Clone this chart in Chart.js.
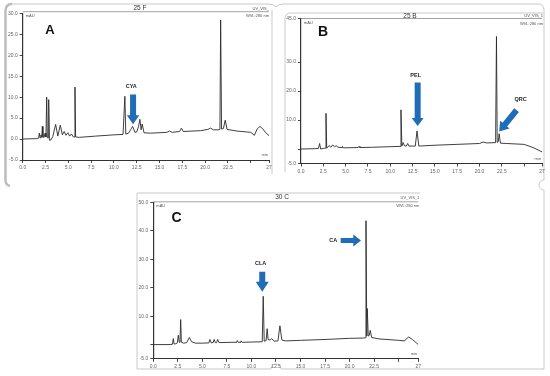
<!DOCTYPE html>
<html>
<head>
<meta charset="utf-8">
<script src="https://cdn.jsdelivr.net/npm/chart.js@4.4.1/dist/chart.umd.min.js"></script>
<style>
  body { margin: 0; background: #fff; }
  #wrap { position: relative; width: 550px; height: 376px; }
  canvas { position: absolute; left: 0; top: 0; }
</style>
</head>
<body>
<div id="wrap">
  <canvas id="chartA" width="550" height="376"></canvas>
  <canvas id="chartB" width="550" height="376"></canvas>
  <canvas id="chartC" width="550" height="376"></canvas>
</div>
<script>
// retention time (min) and absorbance (mAU)
const timesA = [0, 1.5, 1.75, 1.82, 1.9, 2.0, 2.1, 2.15, 2.22, 2.35, 2.45, 2.55, 2.63, 2.7, 2.78, 2.85, 2.93, 3.1, 3.3, 3.61, 3.85, 4.12, 4.35, 4.55, 4.75, 4.95, 5.15, 5.35, 5.55, 5.65, 5.73, 5.8, 6.2, 8.0, 10.0, 11.0, 11.2, 11.3, 11.6, 11.85, 12.05, 12.3, 12.5, 12.7, 12.85, 12.98, 13.1, 13.3, 14.0, 15.8, 16.1, 16.4, 17.2, 17.4, 17.6, 19.5, 20.3, 20.6, 20.9, 21.5, 21.62, 21.7, 21.8, 22.0, 22.2, 22.4, 23.5, 24.5, 25.0, 25.4, 25.7, 26.0, 26.3, 26.6, 27.0];
const signalA = [0, 0.1, 0.2, 1.4, 0.3, 1.0, 0.4, 3.0, 0.5, 0.4, 1.4, 0.5, 10.0, 0.3, 0.3, 9.4, -0.3, -0.2, 0.6, 3.5, 0.7, 3.3, 1.0, 1.8, 0.9, 1.5, 0.7, 1.2, 0.5, 0.5, 12.4, 0.5, 0.4, 0.7, 1.0, 1.1, 10.2, 1.2, 1.4, 2.3, 3.0, 1.6, 1.7, 3.0, 4.7, 2.2, 3.6, 1.5, 1.4, 1.6, 1.9, 1.6, 1.8, 2.6, 1.8, 2.0, 2.3, 2.6, 2.2, 2.2, 2.3, 28.4, 2.4, 2.5, 4.5, 2.3, 1.9, 1.7, 1.6, 0.9, 2.4, 3.0, 2.5, 1.6, 0.8];

const timesB = [0, 1.5, 1.95, 2.09, 2.2, 2.5, 2.72, 2.8, 2.88, 3.0, 3.15, 3.35, 3.55, 3.75, 3.95, 4.15, 4.6, 4.65, 4.75, 6.4, 6.5, 6.6, 8.0, 10.0, 11.1, 11.2, 11.3, 11.45, 11.6, 11.8, 11.95, 12.1, 12.8, 13.0, 13.2, 15.0, 17.5, 20.0, 20.4, 20.8, 21.8, 21.9, 21.98, 22.1, 22.2, 22.35, 23.0, 25.0, 26.0, 27.0];
const signalB = [0, 0.1, 0.2, 1.9, 0.0, 0.2, 0.3, 12.3, 0.3, 0.6, 1.2, 0.6, 1.4, 0.8, 1.1, 0.6, 0.5, 0.9, 0.4, 0.5, 0.9, 0.5, 0.6, 0.8, 0.9, 13.5, 1.0, 2.2, 1.1, 1.0, 1.9, 1.0, 1.0, 6.2, 1.0, 1.3, 1.6, 1.9, 2.4, 2.1, 2.2, 38.8, 2.3, 2.5, 5.3, 2.0, 1.9, 1.6, 0.5, -1.0];

const timesC = [0, 1.5, 1.95, 2.04, 2.12, 2.3, 2.45, 2.55, 2.65, 2.72, 2.79, 2.86, 3.1, 3.4, 3.67, 3.9, 4.3, 5.0, 5.65, 5.77, 5.9, 6.1, 6.2, 6.32, 6.45, 6.56, 6.7, 8.0, 8.5, 8.56, 8.65, 8.85, 8.93, 9.05, 10.0, 11.1, 11.2, 11.3, 11.5, 11.6, 11.7, 11.9, 12.06, 12.3, 12.7, 12.9, 13.1, 13.5, 15.0, 17.5, 20.0, 21.4, 21.6, 21.67, 21.75, 21.8, 21.9, 22.0, 22.1, 22.25, 23.0, 25.0, 25.6, 26.0, 26.4, 26.8, 27.0];
const signalC = [0, 0.0, 0.1, 2.1, 0.2, 0.3, 0.6, 3.3, 0.8, 1.0, 8.8, 0.8, 0.5, 0.7, 2.5, 1.0, 0.5, 0.5, 0.6, 1.8, 0.6, 0.7, 1.8, 0.7, 0.7, 1.8, 0.7, 0.8, 0.8, 1.4, 0.8, 0.8, 1.3, 0.8, 0.9, 1.0, 17.0, 1.2, 1.4, 5.6, 1.8, 1.6, 2.1, 1.2, 1.3, 6.6, 1.6, 1.3, 1.5, 1.8, 2.2, 2.3, 2.4, 43.6, 3.0, 12.7, 3.0, 3.2, 5.0, 2.5, 2.0, 1.5, 1.3, 2.7, 1.8, 0.6, 0.0];

const xTicks = [0, 2.5, 5, 7.5, 10, 12.5, 15, 17.5, 20, 22.5, 25, 27];
const xTickLabels = ['0.0', '2.5', '5.0', '7.5', '10.0', '12.5', '15.0', '17.5', '20.0', '22.5', '', '27'];
const yTicksA = [-5, 0, 5, 10, 15, 20, 25, 30];
const yTickLabelsA = ['-5.0', '0.0', '5.0', '10.0', '15.0', '20.0', '25.0', '30.0'];
const yTicksB = [-5, 0, 10, 20, 30, 45];
const yTickLabelsB = ['-5.0', '', '10.0', '20.0', '30.0', '45.0'];
const yTicksC = [-5, 0, 10, 20, 30, 40, 50];
const yTickLabelsC = ['-5.0', '', '10.0', '20.0', '30.0', '40.0', '50.0'];

const FONT = '"Liberation Sans", Arial, sans-serif';
const BLUE = '#1f6db7';

function drawArrow(ctx, x1, y1, x2, y2, shaftW, headW, headL) {
  const ang = Math.atan2(y2 - y1, x2 - x1);
  const len = Math.hypot(x2 - x1, y2 - y1);
  ctx.save();
  ctx.translate(x1, y1);
  ctx.rotate(ang);
  ctx.beginPath();
  ctx.moveTo(0, -shaftW / 2);
  ctx.lineTo(len - headL, -shaftW / 2);
  ctx.lineTo(len - headL, -headW / 2);
  ctx.lineTo(len, 0);
  ctx.lineTo(len - headL, headW / 2);
  ctx.lineTo(len - headL, shaftW / 2);
  ctx.lineTo(0, shaftW / 2);
  ctx.closePath();
  ctx.fill();
  ctx.restore();
}

// header text, panel letter, arrows and compound labels
const panelDecor = {
  id: 'panelDecor',
  afterDraw(chart, args, o) {
    const { ctx, chartArea: a, scales: { x, y } } = chart;
    ctx.save();
    ctx.strokeStyle = '#8c8c8c';
    ctx.lineWidth = 0.8;
    ctx.beginPath();
    ctx.moveTo(a.left, o.headY);
    ctx.lineTo(a.right, o.headY);
    ctx.stroke();

    ctx.fillStyle = '#333';
    ctx.textBaseline = 'middle';
    ctx.textAlign = 'center';
    ctx.font = '6.5px ' + FONT;
    ctx.fillText(o.title, o.titleX, o.titleY);

    ctx.font = '4px ' + FONT;
    ctx.fillStyle = '#555';
    ctx.textAlign = 'right';
    ctx.fillText(o.channel, a.right + o.infoDx, o.infoY[0]);
    ctx.fillText('WVL:280 nm', a.right + o.infoDx, o.infoY[1]);
    ctx.fillText('min', a.right - 1, a.bottom - 5);
    ctx.textAlign = 'left';
    ctx.fillText('mAU', a.left + 3, o.mauY);

    ctx.fillStyle = '#111';
    ctx.textAlign = 'center';
    ctx.font = 'bold ' + o.letterSize + 'px ' + FONT;
    ctx.fillText(o.letter, x.getPixelForValue(o.letterAt[0]), y.getPixelForValue(o.letterAt[1]));

    ctx.fillStyle = '#222';
    for (const l of o.labels) {
      ctx.font = 'bold 5.5px ' + FONT;
      ctx.fillText(l.text, x.getPixelForValue(l.at[0]), y.getPixelForValue(l.at[1]));
    }
    ctx.fillStyle = BLUE;
    for (const ar of o.arrows) {
      drawArrow(ctx,
        x.getPixelForValue(ar.from[0]), y.getPixelForValue(ar.from[1]),
        x.getPixelForValue(ar.to[0]), y.getPixelForValue(ar.to[1]),
        ar.shaft, ar.head, ar.headLen);
    }
    ctx.restore();
  }
};

// light grey outline of the composite figure
const figureFrame = {
  id: 'figureFrame',
  beforeDraw(chart) {
    const ctx = chart.ctx;
    ctx.save();
    ctx.strokeStyle = '#c9c9c9';
    ctx.lineWidth = 1;
    ctx.beginPath();
    ctx.moveTo(12, 4);
    ctx.lineTo(268, 4);
    ctx.quadraticCurveTo(274, 4, 276, 7);
    ctx.quadraticCurveTo(278, 4, 284, 4);
    ctx.lineTo(538, 4);
    ctx.quadraticCurveTo(544, 4, 544, 10);
    ctx.lineTo(544, 178);
    ctx.arc(544, 185, 5, -Math.PI / 2, Math.PI / 2, true);
    ctx.lineTo(544, 369);
    ctx.lineTo(281, 369);
    ctx.arc(276, 369, 5, 0, Math.PI, true);
    ctx.lineTo(137, 369);
    ctx.lineTo(137, 193);
    ctx.lineTo(420, 193);
    ctx.moveTo(272, 10);
    ctx.lineTo(272, 174);
    ctx.moveTo(285, 172);
    ctx.lineTo(285, 19);
    ctx.quadraticCurveTo(285, 13, 291, 13);
    ctx.lineTo(543, 13);
    ctx.stroke();

    ctx.strokeStyle = '#bdbdbd';
    ctx.lineWidth = 2.5;
    ctx.beginPath();
    ctx.moveTo(12, 4);
    ctx.quadraticCurveTo(5.5, 4, 5.5, 11);
    ctx.lineTo(5.5, 180);
    ctx.quadraticCurveTo(5.5, 185, 10, 186);
    ctx.stroke();
    ctx.restore();
  }
};

function makeChart(id, times, signal, yMin, yMax, yTicks, yTickLabels, padding, decor, extraPlugins) {
  return new Chart(document.getElementById(id), {
    type: 'line',
    data: {
      datasets: [{
        data: times.map((t, i) => ({ x: t, y: signal[i] })),
        borderColor: '#2a2a2a',
        borderWidth: 0.9,
        pointRadius: 0,
        tension: 0,
        fill: false
      }]
    },
    options: {
      responsive: false,
      animation: false,
      events: [],
      layout: { padding: padding },
      plugins: {
        legend: { display: false },
        tooltip: { enabled: false },
        panelDecor: decor
      },
      scales: {
        x: {
          type: 'linear', min: 0, max: 27,
          afterBuildTicks: s => { s.ticks = xTicks.map(v => ({ value: v })); },
          afterFit: s => { s.height = 16; },
          grid: { drawOnChartArea: false, tickLength: 3, color: '#444' },
          border: { color: '#333', width: 1 },
          ticks: {
            autoSkip: false, maxRotation: 0, padding: 2, color: '#666',
            font: { size: 5, family: FONT },
            callback: (v, i) => xTickLabels[i]
          }
        },
        y: {
          min: yMin, max: yMax,
          afterBuildTicks: s => { s.ticks = yTicks.map(v => ({ value: v })); },
          afterFit: s => { s.width = 16; },
          grid: { drawOnChartArea: false, tickLength: 3, color: '#444' },
          border: { color: '#333', width: 1.2 },
          ticks: {
            padding: 2, color: '#666',
            font: { size: 5, family: FONT },
            callback: (v, i) => yTickLabels[i]
          }
        }
      }
    },
    plugins: [panelDecor].concat(extraPlugins || [])
  });
}

makeChart('chartA', timesA, signalA, -5, 30, yTicksA, yTickLabelsA,
  { left: 6.7, top: 13.3, right: 281, bottom: 200 },
  {
    title: '25 F', titleX: 140, titleY: 8.5, headY: 11.7,
    channel: 'UV_VIS_', infoDx: 0, infoY: [8.5, 16], mauY: 16,
    letter: 'A', letterSize: 13, letterAt: [3.0, 25.8],
    labels: [{ text: 'CYA', at: [11.9, 12.5] }],
    arrows: [{ from: [12.1, 10.6], to: [12.1, 3.5], shaft: 6, head: 12.5, headLen: 9 }]
  }, [figureFrame]);

makeChart('chartB', timesB, signalB, -5, 45, yTicksB, yTickLabelsB,
  { left: 285, top: 18.5, right: 8, bottom: 196.5 },
  {
    title: '25 B', titleX: 410, titleY: 16, headY: 18.5,
    channel: 'UV_VIS_1', infoDx: 1, infoY: [16, 23.5], mauY: 23,
    letter: 'B', letterSize: 14, letterAt: [2.46, 40.3],
    labels: [{ text: 'PEL', at: [12.85, 25.2] }, { text: 'QRC', at: [24.6, 17.1] }],
    arrows: [
      { from: [13.07, 22.9], to: [13.07, 7.9], shaft: 6, head: 12, headLen: 8 },
      { from: [24.15, 13.4], to: [22.2, 6.0], shaft: 6, head: 12, headLen: 9 }
    ]
  });

makeChart('chartC', timesC, signalC, -5, 50, yTicksC, yTickLabelsC,
  { left: 137.3, top: 202.5, right: 131.7, bottom: 1.2 },
  {
    title: '30 C', titleX: 282, titleY: 197.3, headY: 201.8,
    channel: 'UV_VIS_1', infoDx: 1, infoY: [198, 206], mauY: 206,
    letter: 'C', letterSize: 14, letterAt: [2.38, 44.5],
    labels: [{ text: 'CLA', at: [10.94, 28.4] }, { text: 'CA', at: [18.34, 36.5] }],
    arrows: [
      { from: [11.1, 25.6], to: [11.1, 18.6], shaft: 6, head: 13, headLen: 10 },
      { from: [19.09, 36.6], to: [21.16, 36.6], shaft: 5, head: 12, headLen: 7.7 }
    ]
  });
</script>
</body>
</html>
